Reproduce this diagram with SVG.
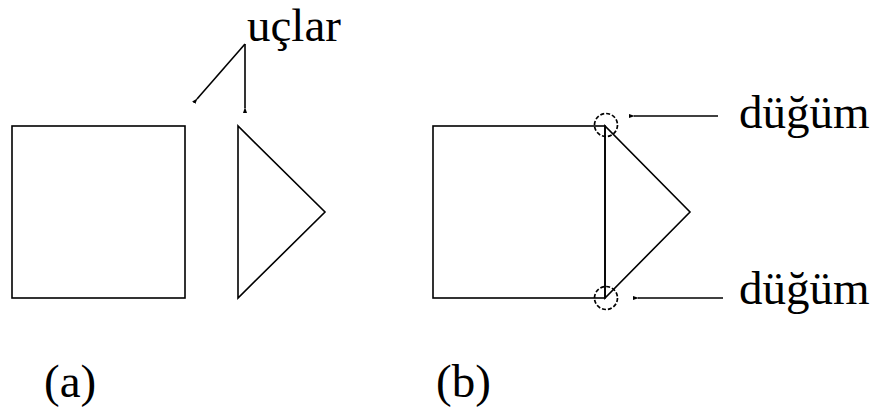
<svg xmlns="http://www.w3.org/2000/svg" width="884" height="417" viewBox="0 0 884 417">
<style>
.s{fill:none;stroke:#000;stroke-width:1.6}
text{font-family:'Liberation Serif','Times New Roman','DejaVu Serif',serif;font-size:47px;fill:#000}
.c{fill:none;stroke:#000;stroke-width:1.7;stroke-dasharray:4,2}
</style>
<defs>
<marker id="ah" markerWidth="6" markerHeight="6" refX="1" refY="3" orient="auto" markerUnits="userSpaceOnUse"><path d="M0,3 L6,1 L6,5 Z" fill="#000"/></marker>
</defs>
<rect width="884" height="417" fill="#fff"/>
<g id="square-a"><rect class="s" x="12" y="126" width="173" height="172"/></g>
<g id="triangle-a"><path class="s" d="M238,126 L238,298 L325,212 Z"/></g>
<g id="square-b"><rect class="s" x="433" y="126" width="172" height="172"/></g>
<g id="triangle-b"><path class="s" d="M605,126 L605,298 L690,212 Z"/></g>
<g id="node-top"><circle class="c" cx="606" cy="125" r="11.5"/></g>
<g id="node-bottom"><circle class="c" cx="606" cy="298" r="11.5"/></g>
<g id="connectors">
<path class="s" d="M245,44 L197,99" marker-end="url(#ah)"/>
<path class="s" d="M245,44 L245,108" marker-end="url(#ah)"/>
<path class="s" d="M718,116 L634,116" marker-end="url(#ah)"/>
<path class="s" d="M723,298 L638,298" marker-end="url(#ah)"/>
</g>
<g id="labels">
<text x="247" y="41" font-family="Liberation Serif, serif">uçlar</text>
<text x="739" y="128" font-family="Liberation Serif, serif">düğüm</text>
<text x="739" y="304" font-family="Liberation Serif, serif">düğüm</text>
<text x="44" y="397" font-family="Liberation Serif, serif">(a)</text>
<text x="436" y="397" font-family="Liberation Serif, serif">(b)</text>
</g>
</svg>
